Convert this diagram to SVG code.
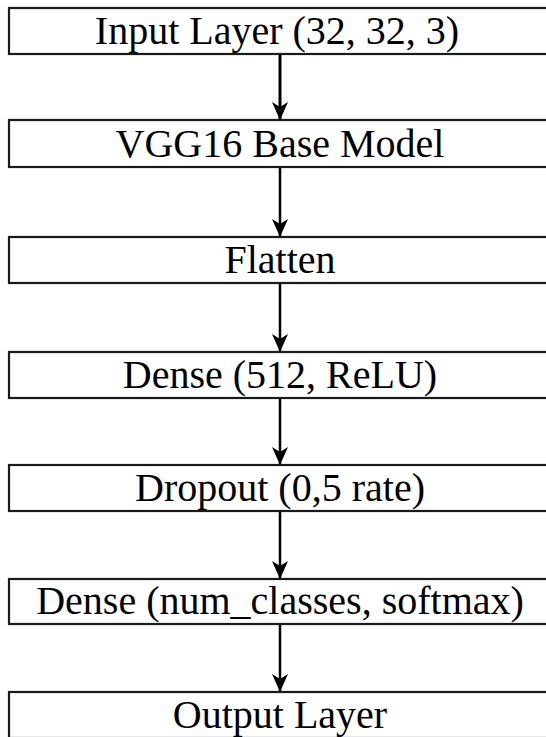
<svg xmlns="http://www.w3.org/2000/svg" width="546" height="737" viewBox="0 0 546 737">
<style>
.box{fill:#fff;stroke:#1a1a1a;stroke-width:2.2}
.lbl{font-family:"Liberation Serif","Times New Roman",serif;font-size:40px;fill:#000;text-anchor:middle}
.con{stroke:#000;stroke-width:2.5;fill:none}
</style>
<defs>
<marker id="ah" markerUnits="userSpaceOnUse" markerWidth="20" markerHeight="20" viewBox="0 0 20 20" refX="19" refY="10" orient="auto">
<path d="M1,2 L19,10 L1,18 L6,10 Z" fill="#000"/>
</marker>
</defs>
<rect width="546" height="737" fill="#fff"/>
<g id="connectors">
<line class="con" x1="280" y1="54" x2="280" y2="120" marker-end="url(#ah)" style="stroke-width:3"/>
<line class="con" x1="280" y1="167" x2="280" y2="237" marker-end="url(#ah)"/>
<line class="con" x1="280" y1="283" x2="280" y2="352" marker-end="url(#ah)"/>
<line class="con" x1="280" y1="398" x2="280" y2="465" marker-end="url(#ah)"/>
<line class="con" x1="280" y1="511" x2="280" y2="579" marker-end="url(#ah)"/>
<line class="con" x1="280" y1="624" x2="280" y2="692" marker-end="url(#ah)"/>
</g>
<g id="input"><rect class="box" x="9" y="8" width="550" height="46"/><text class="lbl" x="277" y="44">Input Layer (32, 32, 3)</text></g>
<g id="vgg16"><rect class="box" x="9" y="120" width="550" height="47"/><text class="lbl" x="280" y="157">VGG16 Base Model</text></g>
<g id="flatten"><rect class="box" x="9" y="237" width="550" height="46"/><text class="lbl" x="280" y="273">Flatten</text></g>
<g id="dense512"><rect class="box" x="9" y="352" width="550" height="46"/><text class="lbl" x="280" y="388">Dense (512, ReLU)</text></g>
<g id="dropout"><rect class="box" x="9" y="465" width="550" height="46"/><text class="lbl" x="280" y="501">Dropout (0,5 rate)</text></g>
<g id="densesoftmax"><rect class="box" x="9" y="579" width="550" height="45"/><text class="lbl" x="280" y="614">Dense (num_classes, softmax)</text></g>
<g id="output"><rect class="box" x="9" y="692" width="550" height="46"/><text class="lbl" x="280" y="728">Output Layer</text></g>
</svg>
